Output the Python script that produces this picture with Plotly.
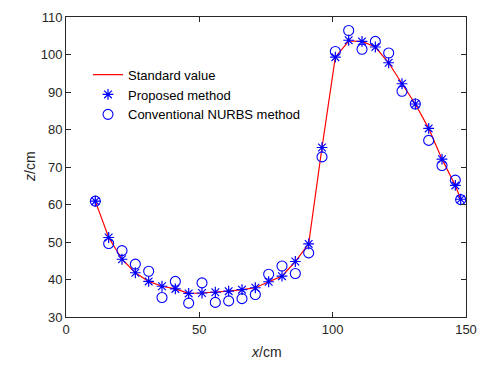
import plotly.graph_objects as go

x = [11, 16, 21, 26, 31, 36, 41, 46, 51, 56, 61, 66, 71, 76, 81, 86, 91, 96,
     101, 106, 111, 116, 121, 126, 131, 136, 141, 146, 148]
standard = [60.9, 51.2, 45.4, 41.8, 39.5, 38.2, 37.5, 36.3, 36.4, 36.6, 36.9, 37.3, 37.8,
            39.4, 40.9, 44.8, 49.5, 75.2, 99.3, 103.6, 103.5, 102.0, 97.8, 92.2, 86.8,
            80.3, 72.1, 65.1, 61.4]
proposed = [60.9, 51.2, 45.4, 41.8, 39.5, 38.2, 37.5, 36.3, 36.4, 36.6, 36.9, 37.3, 37.8,
            39.4, 40.9, 44.8, 49.5, 75.2, 99.3, 103.8, 103.5, 102.0, 97.8, 92.2, 86.8,
            80.3, 72.1, 65.1, 61.4]
nurbs = [60.9, 49.6, 47.7, 44.1, 42.2, 35.2, 39.5, 33.7, 39.1, 33.9, 34.3, 34.9, 36.0,
         41.4, 43.6, 41.6, 47.1, 72.7, 100.8, 106.4, 101.4, 103.5, 100.4, 90.2, 86.8,
         77.1, 70.4, 66.5, 61.3]

fig = go.Figure()
fig.add_trace(go.Scatter(x=x, y=standard, mode="lines", name="Standard value",
                         line=dict(color="red", width=1.2)))
fig.add_trace(go.Scatter(x=x, y=proposed, mode="markers", name="Proposed method",
                         marker=dict(symbol="asterisk-open", size=9,
                                     line=dict(color="blue", width=1.2), color="blue")))
fig.add_trace(go.Scatter(x=x, y=nurbs, mode="markers", name="Conventional NURBS method",
                         marker=dict(symbol="circle-open", size=10,
                                     line=dict(color="blue", width=1.1), color="blue")))

axcol = "#262626"
font = "Liberation Sans, Arial"
common = dict(showgrid=False, zeroline=False, showline=True, linecolor=axcol, linewidth=1,
              mirror="ticks", ticks="inside", ticklen=5, tickcolor=axcol, automargin=False,
              tickfont=dict(family=font, size=13, color=axcol))
fig.update_xaxes(range=[0, 150], tickvals=[0, 50, 100, 150], **common)
fig.update_yaxes(range=[30, 110], tickvals=list(range(30, 111, 10)), **common)
fig.add_annotation(text="<i>x</i>/cm", xref="paper", yref="paper", x=0.5, y=-0.117,
                   xanchor="center", yanchor="middle", showarrow=False,
                   font=dict(family=font, size=14, color=axcol))
fig.add_annotation(text="<i>z</i>/cm", xref="paper", yref="paper", x=-0.09, y=0.5,
                   xanchor="center", yanchor="middle", textangle=-90, showarrow=False,
                   font=dict(family=font, size=14, color=axcol))
fig.update_layout(width=485, height=365, margin=dict(l=66, r=19, t=17, b=48),
                  paper_bgcolor="white", plot_bgcolor="white", showlegend=True,
                  legend=dict(x=0.055, y=0.858, xanchor="left", yanchor="top",
                              bgcolor="rgba(0,0,0,0)", borderwidth=0, tracegroupgap=0,
                              font=dict(family=font, size=13, color="black"),
                              itemwidth=30))
fig.write_html("out.html")
